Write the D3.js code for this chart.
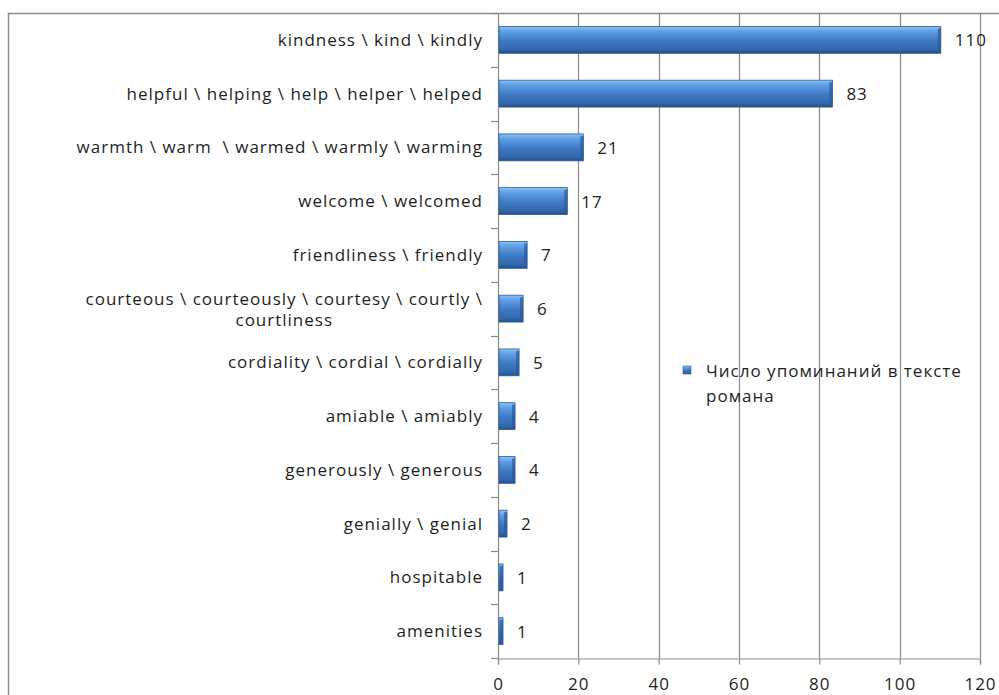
<!DOCTYPE html>
<html><head><meta charset="utf-8">
<script src="https://cdn.jsdelivr.net/npm/d3@7"></script>
<style>
body{margin:0;background:#fff;}
svg text{font-family:"Open Sans","DejaVu Sans",sans-serif;fill:#1e1e1e;letter-spacing:1px;}
</style></head>
<body><svg id="c" width="999" height="695"></svg>
<script>
const categories = [
  ["kindness \\ kind \\ kindly"],
  ["helpful \\ helping \\ help \\ helper \\ helped"],
  ["warmth \\ warm  \\ warmed \\ warmly \\ warming"],
  ["welcome \\ welcomed"],
  ["friendliness \\ friendly"],
  ["courteous \\ courteously \\ courtesy \\ courtly \\", "courtliness"],
  ["cordiality \\ cordial \\ cordially"],
  ["amiable \\ amiably"],
  ["generously \\ generous"],
  ["genially \\ genial"],
  ["hospitable"],
  ["amenities"]
];
const values = [110, 83, 21, 17, 7, 6, 5, 4, 4, 2, 1, 1];
const xTicks = [0, 20, 40, 60, 80, 100, 120];
const seriesName = ["Число упоминаний в тексте", "романа"];

const FS = 17;
const svg = d3.select("#c");
const M = {left: 498, right: 980, top: 13, bottom: 658};

const defs = svg.append("defs");
const g1 = defs.append("linearGradient").attr("id","barg").attr("x1",0).attr("y1",0).attr("x2",0).attr("y2",1);
g1.append("stop").attr("offset","0").attr("stop-color","#8cc4f6");
g1.append("stop").attr("offset","0.18").attr("stop-color","#5f9fe3");
g1.append("stop").attr("offset","0.55").attr("stop-color","#3e78c3");
g1.append("stop").attr("offset","0.85").attr("stop-color","#3468ad");
g1.append("stop").attr("offset","1").attr("stop-color","#234f8a");

// outer chart border (cropped)
svg.append("rect").attr("x",8.5).attr("y",13.5).attr("width",1100).attr("height",800)
  .attr("fill","none").attr("stroke","#8c8c8c").attr("stroke-width",1.5);

const x = d3.scaleLinear().domain([0, 120]).range([M.left, M.right]);
const idx = d3.range(categories.length);
const y = d3.scaleBand().domain(idx).range([M.top, M.bottom]).paddingInner(0.5).paddingOuter(0.25);
const yb = d3.scaleBand().domain(idx).range([M.top, M.bottom]);

// gridlines
svg.append("g").selectAll("line").data(xTicks.slice(1)).join("line")
  .attr("x1", d => Math.round(x(d))+0.5).attr("x2", d => Math.round(x(d))+0.5)
  .attr("y1", M.top).attr("y2", M.bottom)
  .attr("stroke","#8a8a8a").attr("stroke-width",1.2);

// x axis
const xAxis = d3.axisBottom(x).tickValues(xTicks).tickSize(6).tickPadding(13);
const gx = svg.append("g").attr("transform",`translate(0,${M.bottom+0.5})`).call(xAxis);
gx.select(".domain").attr("stroke","#8a8a8a").attr("stroke-width",1.2);
gx.selectAll(".tick line").attr("stroke","#8a8a8a").attr("stroke-width",1.2);
gx.selectAll("text").attr("font-size",FS).attr("fill","#1e1e1e").attr("font-family",'"Open Sans",sans-serif');

// y axis line + ticks at band boundaries
svg.append("line").attr("x1",M.left+0.5).attr("x2",M.left+0.5).attr("y1",M.top).attr("y2",M.bottom)
  .attr("stroke","#8a8a8a").attr("stroke-width",1.2);
svg.append("g").selectAll("line").data(d3.range(categories.length+1)).join("line")
  .attr("x1",M.left-7).attr("x2",M.left)
  .attr("y1", d => Math.round(M.top + d*yb.bandwidth())+0.5)
  .attr("y2", d => Math.round(M.top + d*yb.bandwidth())+0.5)
  .attr("stroke","#8a8a8a").attr("stroke-width",1.2);

// category labels
const lab = svg.append("g").selectAll("text").data(categories).join("text")
  .attr("font-size",FS).attr("text-anchor","end")
  .attr("style","white-space:pre");
lab.each(function(d,i){
  const t = d3.select(this);
  const cy = yb(i) + yb.bandwidth()/2;
  if (d.length === 1) {
    t.append("tspan").attr("x",483).attr("y",cy).attr("dy","0.35em").text(d[0]);
  } else {
    const tmp = t.append("tspan").attr("x",483).attr("y",cy-10).attr("dy","0.35em").text(d[0]);
    const w = tmp.node().getComputedTextLength();
    t.append("tspan").attr("x",483 - w/2).attr("text-anchor","middle").attr("y",cy+11).attr("dy","0.35em").text(d[1]);
  }
});

// bars
const bars = svg.append("g").selectAll("g").data(values).join("g");
bars.append("rect")
  .attr("x", x(0)+1).attr("y",(d,i)=>y(i))
  .attr("width", d => x(d)-x(0)).attr("height", y.bandwidth())
  .attr("fill","url(#barg)").attr("stroke","#2d5a96").attr("stroke-width",0.8);
// bevel at right end
bars.append("rect")
  .attr("x", d => x(d)+1-3).attr("y",(d,i)=>y(i)+2)
  .attr("width", d => Math.min(3, x(d)-x(0))).attr("height", y.bandwidth()-4)
  .attr("fill","#2a5a99").attr("opacity",0.7);

// value labels
svg.append("g").selectAll("text").data(values).join("text")
  .attr("x", d => x(d) + 15).attr("y",(d,i)=>y(i)+y.bandwidth()/2).attr("dy","0.38em")
  .attr("font-size",FS).text(d => d);

// legend
const lg = svg.append("g");
lg.append("rect").attr("x",683).attr("y",366).attr("width",8).attr("height",8)
  .attr("fill","url(#barg)").attr("stroke","#2d5a96").attr("stroke-width",0.6);
lg.selectAll("text").data(seriesName).join("text")
  .attr("x",706).attr("y",(d,i)=>371 + i*25).attr("dy","0.35em")
  .attr("font-size",FS).text(d=>d);
</script></body></html>
